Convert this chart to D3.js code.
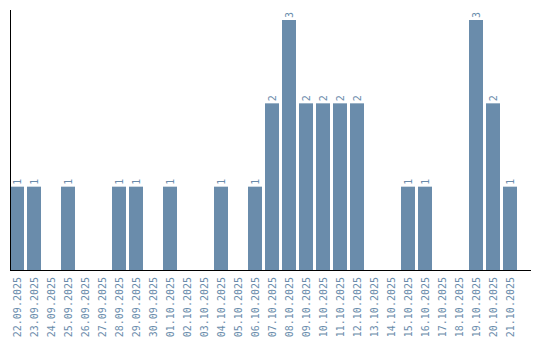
<!DOCTYPE html>
<html>
<head>
<meta charset="utf-8">
<script src="https://cdn.jsdelivr.net/npm/d3@7"></script>
<style>
  html, body { margin: 0; padding: 0; background: #fff; }
  svg { display: block; }
</style>
</head>
<body>
<svg id="chart" width="540" height="340"></svg>
<script>
const categories = ["22.09.2025","23.09.2025","24.09.2025","25.09.2025","26.09.2025","27.09.2025","28.09.2025","29.09.2025","30.09.2025","01.10.2025","02.10.2025","03.10.2025","04.10.2025","05.10.2025","06.10.2025","07.10.2025","08.10.2025","09.10.2025","10.10.2025","11.10.2025","12.10.2025","13.10.2025","14.10.2025","15.10.2025","16.10.2025","17.10.2025","18.10.2025","19.10.2025","20.10.2025","21.10.2025"];
const values = [1,1,0,1,0,0,1,1,0,1,0,0,1,0,1,2,3,2,2,2,2,0,0,1,1,0,0,3,2,1];

const svg = d3.select("#chart");
const barColor = "#6a8cab";
const textColor = "#6a8cab";
const fontFam = "'DejaVu Sans Mono', monospace";

const x = d3.scaleBand().domain(categories).range([10, 517]).paddingInner(3/17).paddingOuter(0);
const y = d3.scaleLinear().domain([0, 3.12]).range([270, 10]);

const data = categories.map((c, i) => ({ c, v: values[i] }));

svg.append("g").selectAll("rect").data(data.filter(d => d.v > 0)).join("rect")
  .attr("x", d => x(d.c))
  .attr("y", d => y(d.v))
  .attr("width", x.bandwidth())
  .attr("height", d => y(0) - y(d.v))
  .attr("fill", barColor);

svg.append("g").selectAll("text").data(data.filter(d => d.v > 0)).join("text")
  .attr("transform", d => `translate(${x(d.c) + x.bandwidth() / 2 + 4},${y(d.v) - 2}) rotate(-90)`)
  .attr("text-anchor", "start")
  .attr("font-family", fontFam)
  .attr("font-size", "10px")
  .attr("fill", textColor)
  .text(d => d.v);

// x tick labels
const xAxis = svg.append("g").attr("transform", "translate(0,270)")
  .call(d3.axisBottom(x).tickSize(0).tickPadding(0));
xAxis.select(".domain").remove();
xAxis.selectAll("text")
  .attr("transform", "translate(0,7) rotate(-90)")
  .attr("text-anchor", "end")
  .attr("x", 0).attr("y", 0).attr("dy", "0.35em").attr("dx", 0)
  .attr("font-family", fontFam)
  .attr("font-size", "10px")
  .attr("fill", textColor);

// axis lines
svg.append("line").attr("x1", 10.5).attr("x2", 10.5).attr("y1", y.range()[1]).attr("y2", 270)
  .attr("stroke", "#000").attr("stroke-width", 1);
svg.append("line").attr("x1", 10).attr("x2", 531).attr("y1", 270.5).attr("y2", 270.5)
  .attr("stroke", "#000").attr("stroke-width", 1);
</script>
</body>
</html>
